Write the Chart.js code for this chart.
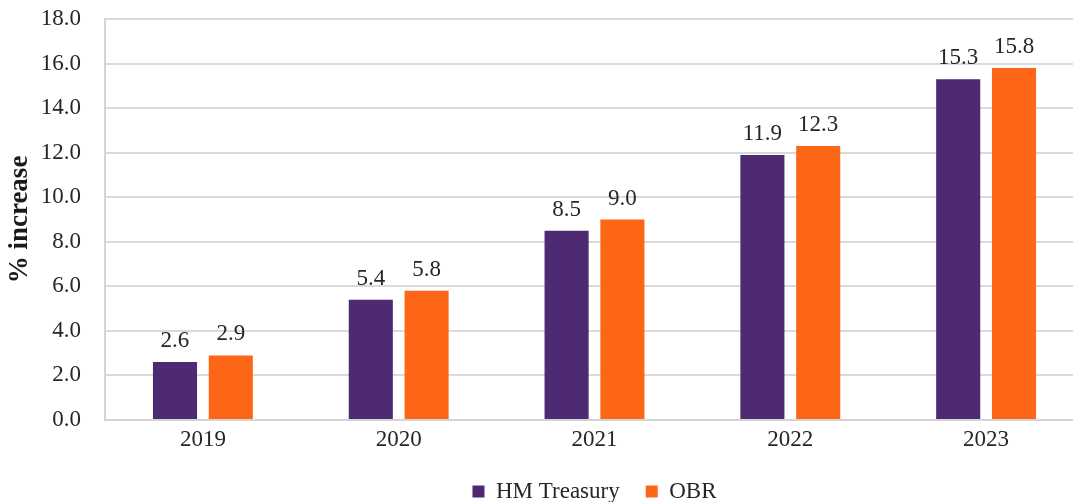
<!DOCTYPE html>
<html>
<head>
<meta charset="utf-8">
<script src="https://cdn.jsdelivr.net/npm/chart.js@4.4.1/dist/chart.umd.min.js"></script>
<style>
  html, body { margin: 0; padding: 0; background: #fff; overflow: hidden; }
  #wrap { width: 1084px; height: 502px; }
</style>
</head>
<body>
<div id="wrap"><canvas id="myChart" width="1084" height="502"></canvas></div>
<script>
var years = ["2019", "2020", "2021", "2022", "2023"];
var hmTreasury = [2.6, 5.4, 8.5, 11.9, 15.3];
var obr = [2.9, 5.8, 9.0, 12.3, 15.8];
var yTicks = [0, 2, 4, 6, 8, 10, 12, 14, 16, 18];

var serif = "'Liberation Serif', 'DejaVu Serif', serif";

// nhan gia tri tren dau cot
var valueLabels = {
    id: "valueLabels",
    afterDatasetsDraw: function (chart) {
        var ctx = chart.ctx;
        ctx.save();
        ctx.font = "23px " + serif;
        ctx.fillStyle = "#262626";
        ctx.textAlign = "center";
        ctx.textBaseline = "alphabetic";
        chart.data.datasets.forEach(function (ds, i) {
            chart.getDatasetMeta(i).data.forEach(function (bar, j) {
                ctx.fillText(ds.data[j].toFixed(1), bar.x, bar.y - 15);
            });
        });
        ctx.restore();
    }
};

var ctx = document.getElementById("myChart").getContext("2d");
var myChart = new Chart(ctx, {
    type: "bar",
    data: {
        labels: years,
        datasets: [{
            label: "HM Treasury",
            data: hmTreasury,
            backgroundColor: "#4e2a72",
            categoryPercentage: 0.57,
            barPercentage: 0.79
        }, {
            label: "OBR",
            data: obr,
            backgroundColor: "#fd6616",
            categoryPercentage: 0.57,
            barPercentage: 0.79
        }]
    },
    options: {
        responsive: false,
        animation: false,
        layout: { padding: { left: 0, top: 0, right: 0, bottom: 0 } },
        plugins: {
            legend: {
                position: "bottom",
                fullSize: false,
                maxHeight: 48,
                labels: {
                    font: { family: serif, size: 23 },
                    color: "#262626",
                    boxWidth: 12,
                    boxHeight: 12,
                    padding: 26
                }
            },
            tooltip: { enabled: false }
        },
        scales: {
            x: {
                afterFit: function (axis) {
                    axis.height = 34;
                },
                grid: { display: false, drawTicks: false },
                border: { color: "#d4d4d4", width: 2 },
                ticks: {
                    font: { family: serif, size: 23 },
                    color: "#262626",
                    padding: 6
                }
            },
            y: {
                min: 0,
                max: 18,
                afterBuildTicks: function (axis) {
                    axis.ticks = yTicks.map(function (v) { return { value: v }; });
                },
                afterFit: function (axis) {
                    axis.width = 105;
                    axis.paddingTop = 19;
                    axis.paddingBottom = 0;
                },
                grid: { color: "#dadada", lineWidth: 2, drawTicks: false },
                border: { color: "#d4d4d4", width: 2 },
                ticks: {
                    font: { family: serif, size: 23 },
                    color: "#262626",
                    padding: 24,
                    callback: function (v) { return Number(v).toFixed(1); }
                },
                title: {
                    display: true,
                    text: "% increase",
                    font: { family: serif, size: 27, weight: "bold" },
                    color: "#1a1a1a",
                    padding: { top: 4, bottom: 0 }
                }
            }
        }
    },
    plugins: [valueLabels]
});
</script>
</body>
</html>
